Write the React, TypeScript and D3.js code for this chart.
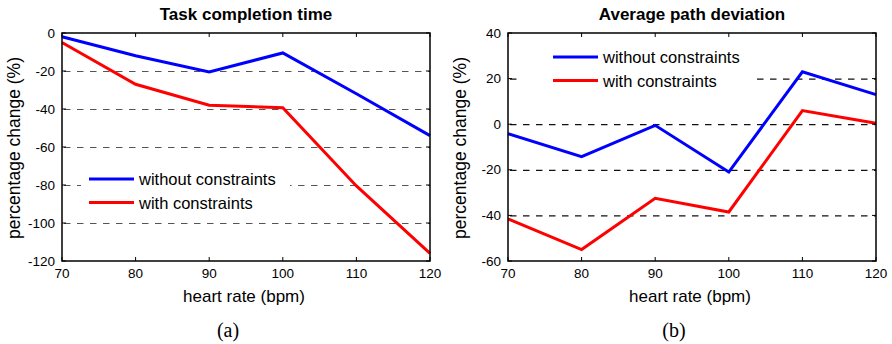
import React from 'react';
import * as d3 from 'd3';

const heartRate = [70, 80, 90, 100, 110, 120];
const xTicks = [70, 80, 90, 100, 110, 120];

// (a) task completion time
const timeWithout = [-2, -12, -20.5, -10.5, -32, -54];
const timeWith = [-5, -27, -38, -39.3, -80.5, -116];
const timeTicks = [0, -20, -40, -60, -80, -100, -120];

// (b) average path deviation
const pathWithout = [-4.2, -14.2, -0.5, -21, 23, 13];
const pathWith = [-41.5, -55, -32.5, -38.5, 6, 0.4];
const pathTicks = [40, 20, 0, -20, -40, -60];

const legendLabels = ['without constraints', 'with constraints'];
const colors = ['#0000ff', '#ff0000'];

const FONT = '"Liberation Sans", Arial, Helvetica, sans-serif';

type PanelProps = {
  left: number;
  title: string;
  caption: string;
  yDomain: [number, number];
  yTicks: number[];
  series: number[][];
  legendX: number;
  legendY: number;
  legendBox: [number, number, number, number];
  gridColor: string;
};

function Panel(props: PanelProps) {
  const { left, title, caption, yDomain, yTicks, series, legendX, legendY, legendBox, gridColor } = props;
  const top = 33;
  const width = 368;
  const height = 228;

  const x = d3.scaleLinear().domain([70, 120]).range([0, width]);
  const y = d3.scaleLinear().domain(yDomain).range([height, 0]);

  const line = d3.line<number>()
    .x((d, i) => x(heartRate[i]))
    .y(d => y(d));

  const gridTicks = yTicks.filter(t => t !== yDomain[0] && t !== yDomain[1]);
  const tickLen = 4;

  return (
    <g transform={`translate(${left},${top})`}>
      <text x={width / 2} y={-13} textAnchor="middle" fontFamily={FONT} fontWeight="bold" fontSize={17}>
        {title}
      </text>

      {gridTicks.map(t => (
        <line key={'g' + t} x1={0} x2={width} y1={y(t) + 0.5} y2={y(t) + 0.5}
          stroke={gridColor} strokeWidth={1.2} strokeDasharray="6.5,6.5" strokeDashoffset={-2} />
      ))}

      <rect x={legendBox[0]} y={legendBox[1]} width={legendBox[2]} height={legendBox[3]} fill="#fff" />

      {series.map((s, i) => (
        <path key={'s' + i} d={line(s) || ''} fill="none" stroke={colors[i]} strokeWidth={3} strokeLinejoin="miter" />
      ))}

      {legendLabels.map((lab, i) => (
        <g key={'l' + i} transform={`translate(${legendX},${legendY + i * 23.5})`}>
          <line x1={0} x2={45} y1={0} y2={0} stroke={colors[i]} strokeWidth={3} />
          <text x={50} y={6} fontFamily={FONT} fontSize={16.5}>{lab}</text>
        </g>
      ))}

      <rect x={0} y={0} width={width} height={height} fill="none" stroke="#000" strokeWidth={1.5} />

      {xTicks.map(t => (
        <g key={'x' + t}>
          <line x1={x(t)} x2={x(t)} y1={height} y2={height - tickLen} stroke="#000" />
          <line x1={x(t)} x2={x(t)} y1={0} y2={tickLen} stroke="#000" />
          <text x={x(t)} y={height + 17} textAnchor="middle" fontFamily={FONT} fontSize={13.5}>{t}</text>
        </g>
      ))}

      {yTicks.map(t => (
        <g key={'y' + t}>
          <line x1={0} x2={tickLen} y1={y(t)} y2={y(t)} stroke="#000" />
          <line x1={width} x2={width - tickLen} y1={y(t)} y2={y(t)} stroke="#000" />
          <text x={-7} y={y(t) + 4.5} textAnchor="end" fontFamily={FONT} fontSize={13.5}>{t}</text>
        </g>
      ))}

      <text x={width / 2 - 2} y={height + 41} textAnchor="middle" fontFamily={FONT} fontSize={17}>
        heart rate (bpm)
      </text>
      <text transform={`translate(${-42},${height / 2 + 1}) rotate(-90)`} textAnchor="middle"
        fontFamily={FONT} fontSize={17.5}>
        percentage change (%)
      </text>

      <text x={width / 2 - 18} y={height + 76} textAnchor="middle"
        fontFamily='"Liberation Serif", "Times New Roman", serif' fontSize={20}>
        {caption}
      </text>
    </g>
  );
}

export default function App() {
  return (
    <svg width={892} height={344} style={{ position: 'absolute', left: 0, top: 0, background: '#fff' }}>
      <rect width={892} height={344} fill="#fff" />
      <Panel
        left={62}
        title="Task completion time"
        caption="(a)"
        yDomain={[-120, 0]}
        yTicks={timeTicks}
        series={[timeWithout, timeWith]}
        legendX={27}
        legendY={146}
        legendBox={[19, 130, 209, 52]}
        gridColor="#555"
      />
      <Panel
        left={508}
        title="Average path deviation"
        caption="(b)"
        yDomain={[-60, 40]}
        yTicks={pathTicks}
        series={[pathWithout, pathWith]}
        legendX={45}
        legendY={24}
        legendBox={[10, 8, 236, 55]}
        gridColor="#111"
      />
    </svg>
  );
}
